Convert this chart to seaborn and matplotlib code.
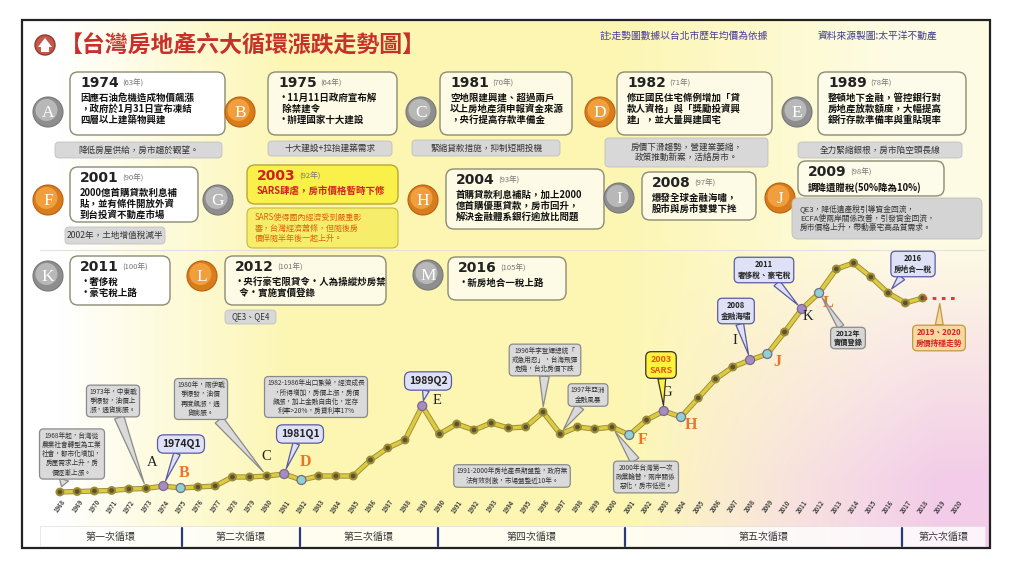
import numpy as np
import pandas as pd
import matplotlib
matplotlib.use("Agg")
import matplotlib.pyplot as plt
import matplotlib.patheffects as pe
import matplotlib.transforms as mtrans
from matplotlib.patches import FancyBboxPatch, Circle, Rectangle, Polygon
import seaborn as sns

# ---------------- data ----------------
years = list(range(1968, 2021))
price_index = [3, 3.5, 4, 4.5, 6, 6.5, 9, 7, 8, 9,
               18, 18, 19, 21, 15, 19, 19, 19, 35, 47,
               55, 89, 61, 71, 65, 72, 67, 68, 83, 61,
               68, 66, 68, 60, 75, 84, 78, 97, 116, 128,
               135, 141, 163, 186, 202, 226, 232, 218, 202, 192,
               197, 197, 197]
last_actual_year = 2018

key_letters = ["A", "B", "C", "D", "E", "F", "G", "H", "I", "J", "K", "L"]
key_years = [1974, 1975, 1981, 1982, 1989, 2001, 2003, 2004, 2008, 2009, 2011, 2012]
key_group = ["高點", "轉折", "高點", "轉折", "高點", "轉折",
             "高點", "轉折", "高點", "轉折", "高點", "轉折"]

cycle_names = ["第一次循環", "第二次循環", "第三次循環", "第四次循環", "第五次循環", "第六次循環"]
cycle_bounds = [1966.85, 1975.05, 1981.9, 1989.9, 2000.75, 2016.8, 2021.6]

title = "【台灣房地產六大循環漲跌走勢圖】"
note_left = "註:走勢圖數據以台北市歷年均價為依據"
note_right = "資料來源製圖:太平洋不動產"

# ---------------- style ----------------
sns.set_theme(style="white")
plt.rcParams["font.family"] = ["Noto Sans CJK TC", "DejaVu Sans"]

df = pd.DataFrame({"year": years, "index": price_index})
df_act = df[df["year"] <= last_actual_year]
df_proj = df[df["year"] >= last_actual_year]
val = dict(zip(years, price_index))
df_key = pd.DataFrame({"year": key_years, "index": [val[y] for y in key_years],
                       "group": key_group, "letter": key_letters})

fig = plt.figure(figsize=(10.24, 5.61), dpi=100)
ax0 = fig.add_axes([0, 0, 1, 1], zorder=0)
ax0.set_xlim(0, 1024)
ax0.set_ylim(561, 0)
ax0.axis("off")

# background gradient inside frame
W, H = 968, 528
xs = np.linspace(22, 990, W)
ys = np.linspace(20, 548, H)
X, Y = np.meshgrid(xs, ys)
wy = np.clip((X - 60) / 230, 0, 1) * np.clip(1 - (X - 620) / 420, 0.35, 1)
wp = np.clip((X - 640) / 300, 0, 1) * np.clip((Y - 240) / 240, 0, 1)
wy = wy * (1 - wp)
white = np.array([1, 1, 1.0])
yellow = np.array([0.99, 0.965, 0.70])
pink = np.array([0.95, 0.80, 0.91])
img = (white[None, None, :] * (1 - wy - wp)[..., None]
       + yellow[None, None, :] * wy[..., None] + pink[None, None, :] * wp[..., None])
ax0.imshow(img, extent=(22, 990, 548, 20), aspect="auto", zorder=0)
ax0.add_patch(Rectangle((22, 20), 968, 528, fill=False, ec="#222222", lw=1.6, zorder=10))

# title
ax0.add_patch(Circle((45, 45), 10, fc="#c4584a", ec="#8a3a30", lw=1, zorder=3))
ax0.add_patch(Polygon([[38, 47], [45, 38], [52, 47], [49, 47], [49, 52], [41, 52], [41, 47]],
                      closed=True, fc="white", ec="none", zorder=4))
ax0.text(60, 45, title, fontsize=16.5, fontweight="bold", color="#c8302c", va="center", ha="left", zorder=4)
ax0.text(600, 36, note_left, fontsize=7, color="#4b3c9c", va="center", ha="left", zorder=4)
ax0.text(818, 36, note_right, fontsize=7, color="#3c3c8c", va="center", ha="left", zorder=4)

GREY_C = ("#8e8e8e", "#bdbdbd")
ORANGE_C = ("#d97c1c", "#f3a440")


def badge(x, y, letter, kind):
    outer, inner = GREY_C if kind == "g" else ORANGE_C
    ax0.add_patch(Circle((x, y), 15, fc=outer, ec="#777777" if kind == "g" else "#b86010", lw=0.8, zorder=3))
    ax0.add_patch(Circle((x - 1.5, y - 2), 11, fc=inner, ec="none", zorder=3, alpha=0.9))
    ax0.text(x, y + 1, letter, fontsize=12.5, color="white", family="Liberation Serif",
             ha="center", va="center", zorder=4)


def info(x0, y0, x1, y1, year, roc, body, fc="white", ec="#8c8c74", ycol="#222222", bcol="#111111"):
    ax0.add_patch(FancyBboxPatch((x0, y0), x1 - x0, y1 - y0, boxstyle="round,pad=0,rounding_size=8",
                                 fc=fc, ec=ec, lw=1.0, zorder=3))
    ax0.text(x0 + 10, y0 + 11, year, fontsize=10, fontweight="bold", family="DejaVu Sans",
             color=ycol, ha="left", va="center", zorder=4)
    ax0.text(x0 + 52, y0 + 12, roc, fontsize=5.5, color="#777777", ha="left", va="center", zorder=4)
    ax0.text(x0 + 10, y0 + 21, body, fontsize=6.8, fontweight="bold", color=bcol, ha="left", va="top",
             linespacing=1.1, zorder=4)


def tag(x0, y0, x1, y1, text, fc="#d8d8d8", col="#333333", fs=6.2):
    ax0.add_patch(FancyBboxPatch((x0, y0), x1 - x0, y1 - y0, boxstyle="round,pad=0,rounding_size=4",
                                 fc=fc, ec="#c0c0c0", lw=0.6, zorder=3))
    ax0.text((x0 + x1) / 2, (y0 + y1) / 2, text, fontsize=fs, color=col, ha="center", va="center",
             linespacing=1.2, zorder=4)


# Row 1
badge(48, 112, "A", "g")
info(70, 72, 225, 135, "1974", "(63年)", "因應石油危機造成物價飆漲\n，政府於1月31日宣布凍結\n四層以上建築物興建")
tag(55, 142, 222, 158, "降低房屋供給，房市趨於觀望。")
badge(240, 112, "B", "o")
info(268, 72, 397, 135, "1975", "(64年)", "•11月11日政府宣布解\n  除禁建令\n•辦理國家十大建設", fc="#fdfbe6")
tag(268, 141, 392, 156, "十大建設+拉抬建築需求")
badge(421, 112, "C", "g")
info(440, 72, 572, 135, "1981", "(70年)", "空地限建興建、超過兩戶\n以上房地產須申報資金來源\n，央行提高存款準備金", fc="#fdfbe6")
tag(412, 140, 560, 156, "緊縮貸款措施，抑制短期投機")
badge(600, 112, "D", "o")
info(617, 72, 772, 135, "1982", "(71年)", "修正國民住宅條例增加「貸\n款人資格」與「獎勵投資興\n建」，並大量興建國宅", fc="#fdfbe6")
tag(605, 138, 768, 167, "房價下滑趨勢，營建業萎縮，\n政策推動新案，活絡房市。")
badge(797, 112, "E", "g")
info(818, 72, 966, 135, "1989", "(78年)", "整頓地下金融，管控銀行對\n房地產放款額度，大幅提高\n銀行存款準備率與重貼現率", fc="#fdfbea")
tag(798, 142, 962, 158, "全力緊縮銀根，房市陷空頭長線")

# Row 2
badge(48, 200, "F", "o")
info(70, 167, 198, 222, "2001", "(90年)", "2000億首購貸款利息補\n貼，並有條件開放外資\n到台投資不動產市場")
tag(65, 227, 165, 244, "2002年，土地增值稅減半")
badge(218, 200, "G", "g")
info(247, 165, 398, 204, "2003", "(92年)", "SARS肆虐，房市價格暫時下修", fc="#f9f04a", ec="#b8a830",
     ycol="#d02020", bcol="#d02020")
ax0.add_patch(FancyBboxPatch((247, 208), 151, 40, boxstyle="round,pad=0,rounding_size=6",
                             fc="#f6ee6a", ec="#c8b840", lw=0.8, zorder=3))
ax0.text(255, 228, "SARS使得國內經濟受到嚴重影\n響，台灣經濟蕭條，但隨後房\n價伴隨半年後一起上升。",
         fontsize=5.8, color="#e06010", ha="left", va="center", linespacing=1.2, zorder=4)
badge(423, 200, "H", "o")
info(446, 169, 604, 229, "2004", "(93年)", "首購貸款利息補貼，加上2000\n億首購優惠貸款，房市回升，\n解決金融體系銀行逾放比問題", fc="#fdfbe6")
badge(619, 198, "I", "g")
info(642, 172, 756, 220, "2008", "(97年)", "爆發全球金融海嘯，\n股市與房市雙雙下挫", fc="#fdfbe6")
badge(780, 198, "J", "o")
info(798, 161, 944, 196, "2009", "(98年)", "調降遺贈稅(50%降為10%)", fc="#fdfbea")
ax0.add_patch(FancyBboxPatch((792, 198), 190, 41, boxstyle="round,pad=0,rounding_size=6",
                             fc="#d4d4d4", ec="#bdbdbd", lw=0.6, zorder=3))
ax0.text(800, 218.5, "QE3，降低遺產稅引導資金回流，\nECFA使兩岸關係改善，引發資金回流，\n房市價格上升，帶動豪宅高品質需求。",
         fontsize=5.6, color="#333333", ha="left", va="center", linespacing=1.2, zorder=4)

ax0.plot([40, 985], [250, 250], color="#e2e2e2", lw=0.8, zorder=2)

# Row 3
badge(48, 276, "K", "g")
info(70, 256, 170, 305, "2011", "(100年)", "•奢侈稅\n•豪宅稅上路")
badge(202, 276, "L", "o")
info(225, 256, 386, 305, "2012", "(101年)", "•央行豪宅限貸令•人為操縱炒房禁\n  令•實施實價登錄", fc="#fdfbe6")
tag(225, 310, 276, 324, "QE3、QE4", fs=5.8)
badge(428, 275, "M", "g")
info(448, 257, 566, 300, "2016", "(105年)", "•新房地合一稅上路", fc="#fdfbe6")

# ---------------- chart axes ----------------
ax = fig.add_axes([34 / 1024, (561 - 497) / 561, (983 - 34) / 1024, 252 / 561], zorder=2)
ax.set_facecolor("none")
ax.patch.set_alpha(0)
ax.set_xlim(1966.5, 2021.5)
ax.set_ylim(-2, 250)

line_fx = [pe.Stroke(linewidth=3.8, foreground="#9c8c34"), pe.Normal()]
sns.lineplot(data=df_act, x="year", y="index", ax=ax, color="#dccb42", lw=2.5, marker="o",
             markersize=2.6, markerfacecolor="#5d5030", markeredgecolor="#5d5030",
             path_effects=line_fx, zorder=3)
sns.lineplot(data=df_proj, x="year", y="index", ax=ax, color="#e23a3a", lw=2.2,
             linestyle=(0, (1.2, 1.8)), zorder=3)
sns.scatterplot(data=df_key, x="year", y="index", hue="group", ax=ax,
                palette={"高點": "#a68cc4", "轉折": "#8ed2d2"}, s=42,
                edgecolor="#7a6a8a", linewidth=0.9, legend=False, zorder=5)

label_offsets = [(-11, -24), (3, -15), (-18, -17), (4, -18), (15, -6), (13, 5),
                 (3, -18), (10, 8), (-15, -19), (10, 8), (6, 8), (9, 10)]
for i, row in df_key.iterrows():
    dx, dy = label_offsets[i]
    dark = i % 2 == 0
    ax.annotate(row["letter"], xy=(row["year"], row["index"]), xytext=(dx * 0.72, -dy * 0.72),
                textcoords="offset points", ha="center", va="center",
                fontsize=10.5 if dark else 11.5, fontweight="normal" if dark else "bold",
                color="#222222" if dark else "#e8762a", family="Liberation Serif", zorder=6)

ax.set_xticks(years)
ax.set_xticklabels([str(y) for y in years], rotation=55, fontsize=4.3, color="#444444", fontweight="bold")
ax.tick_params(axis="x", length=0, pad=1)
ax.set_yticks([])
ax.set_xlabel("")
ax.set_ylabel("")
for s in ax.spines.values():
    s.set_visible(False)


def callout(text, year, px, py, fc="#dadada", ec="#8a8a8a", tc="#333333", fs=4.8, weight="normal",
            pointer=True, tail=0.5, ms=14):
    kw = dict(ha="center", va="center", fontsize=fs, color=tc, fontweight=weight, linespacing=1.2,
              bbox=dict(boxstyle="round,pad=0.4,rounding_size=0.6", fc=fc, ec=ec, lw=0.9),
              zorder=7, annotation_clip=False)
    if pointer:
        ax.annotate(text, xy=(year, val[year]), xycoords="data", xytext=(px, py),
                    textcoords=ax0.transData,
                    arrowprops=dict(arrowstyle=f"wedge,tail_width={tail},shrink_factor=0.5",
                                    fc=fc, ec=ec, lw=0.9, mutation_scale=ms, shrinkA=0, shrinkB=4),
                    **kw)
    else:
        ax.annotate(text, xy=(px, py), xycoords=ax0.transData, **kw)


BLUE_FC, BLUE_EC = "#dfe2f6", "#5a5aa6"
callout("1968年起，台灣從\n農業社會轉型為工業\n社會，都市化增加，\n房屋需求上升，房\n價逐漸上漲。", 1968, 72, 454)
callout("1973年，中東戰\n爭爆發，油價上\n漲，通貨膨脹。", 1973, 113, 401)
callout("1980年，兩伊戰\n爭爆發，油價\n再度飆漲，通\n貨膨脹。", 1980, 201, 399)
callout("1982-1986年出口繁榮，經濟成長\n，所得增加，房價上漲，房價\n飆漲，加上金融自由化，定存\n利率>20%，房貸利率17%", 1982, 316, 397,
        pointer=False)
callout("1974Q1", 1974, 181, 444, fc=BLUE_FC, ec=BLUE_EC, tc="#222222", fs=7.5, weight="bold", tail=0.35)
callout("1981Q1", 1981, 300, 434, fc=BLUE_FC, ec=BLUE_EC, tc="#222222", fs=7.5, weight="bold", tail=0.35)
callout("1989Q2", 1989, 428, 381, fc=BLUE_FC, ec=BLUE_EC, tc="#222222", fs=7.5, weight="bold", tail=0.35)
callout("1996年李登輝總統「\n戒急用忍」，台海飛彈\n危機，台北房價下跌", 1996, 545, 360)
callout("1997年亞洲\n金融風暴", 1997, 588, 395)
callout("1991-2000年房地產長期盤整，政府無\n法有效刺激，市場盤整近10年。", 1991, 512, 476, pointer=False)
callout("2000年台灣第一次\n政黨輪替，兩岸關係\n惡化，房市低迷。", 2000, 646, 477)
callout("2003\nSARS", 2003, 661, 365, fc="#fff23a", ec="#333333", tc="#e05a10", fs=6.5, weight="bold", tail=0.4)
callout("2008\n金融海嘯", 2008, 736, 311, fc=BLUE_FC, ec=BLUE_EC, tc="#222222", fs=5.5, weight="bold", tail=0.4)
callout("2011\n奢侈稅、豪宅稅", 2011, 764, 270, fc=BLUE_FC, ec=BLUE_EC, tc="#222222", fs=5.5, weight="bold", tail=0.4)
callout("2016\n房地合一稅", 2016, 913, 264, fc=BLUE_FC, ec=BLUE_EC, tc="#222222", fs=5.5, weight="bold", tail=0.4)
callout("2012年\n實價登錄", 2012, 848, 338, fc="#d6d6d6", ec="#8a8a8a", tc="#222222", fs=5.2, weight="bold",
        tail=0.35)
callout("2019、2020\n房價持穩走勢", 2019, 939, 338, fc="#f6d9a0", ec="#c09a40", tc="#d82020", fs=5.6,
        weight="bold", tail=0.4)

# cycle band
band_tr = mtrans.blended_transform_factory(ax.transData, ax0.transData)
ax.add_patch(Rectangle((cycle_bounds[0], 526), cycle_bounds[-1] - cycle_bounds[0], 20,
                       transform=band_tr, fc="white", ec="#dddddd", lw=0.6, alpha=0.8,
                       clip_on=False, zorder=2))
for b in cycle_bounds[1:-1]:
    ax.plot([b, b], [528, 546], transform=band_tr, color="#2a3a7a", lw=1.6, clip_on=False, zorder=3)
for i, name in enumerate(cycle_names):
    mid = (cycle_bounds[i] + cycle_bounds[i + 1]) / 2
    ax.text(mid, 537, name, transform=band_tr, fontsize=7.2, color="#333333", ha="center",
            va="center", clip_on=False, zorder=3)

fig.savefig("out.png", dpi=100)
